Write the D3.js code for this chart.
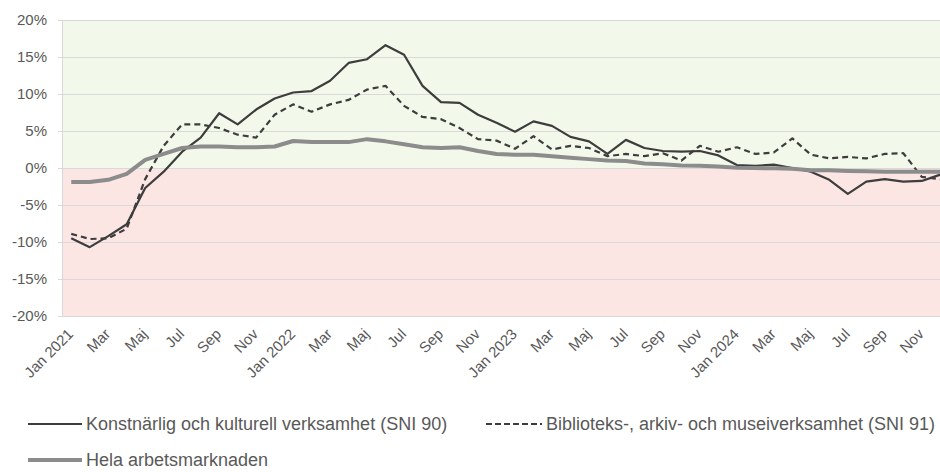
<!DOCTYPE html>
<html>
<head>
<meta charset="utf-8">
<script src="https://cdn.jsdelivr.net/npm/d3@7"></script>
<style>
	body { margin: 0; background: #fff; }
	svg { display: block; font-family: 'Liberation Sans', Arial, sans-serif; }
</style>
</head>
<body>
<script>
var monthNames = [ 'Jan', 'Feb', 'Mar', 'Apr', 'Maj', 'Jun', 'Jul', 'Aug', 'Sep', 'Okt', 'Nov', 'Dec' ];
var years = [ 2021, 2022, 2023, 2024 ];

// Konstnärlig och kulturell verksamhet (SNI 90), % förändring
var sni90 = [
	-9.5, -10.7, -9.2, -7.6, -2.7, -0.5, 2.2, 4.1, 7.4, 5.9, 7.9, 9.4,
	10.2, 10.4, 11.8, 14.2, 14.7, 16.6, 15.3, 11.1, 8.9, 8.8, 7.2, 6.1,
	4.9, 6.3, 5.7, 4.2, 3.6, 1.9, 3.8, 2.7, 2.3, 2.2, 2.3, 1.7,
	0.4, 0.3, 0.45, 0.0, -0.5, -1.6, -3.5, -1.85, -1.5, -1.85, -1.75, -0.9
];

// Biblioteks-, arkiv- och museiverksamhet (SNI 91)
var sni91 = [
	-8.9, -9.6, -9.5, -8.2, -1.5, 3.0, 5.9, 5.9, 5.4, 4.5, 4.1, 7.2,
	8.6, 7.6, 8.6, 9.2, 10.6, 11.1, 8.4, 6.9, 6.6, 5.4, 3.9, 3.7,
	2.6, 4.3, 2.5, 3.0, 2.7, 1.6, 1.9, 1.6, 2.0, 1.0, 3.0, 2.2,
	2.8, 1.9, 2.1, 4.0, 1.8, 1.3, 1.5, 1.3, 1.9, 2.0, -1.2, -1.5
];

// Hela arbetsmarknaden
var hela = [
	-1.9, -1.9, -1.6, -0.8, 1.1, 1.9, 2.7, 2.9, 2.9, 2.8, 2.8, 2.9,
	3.65, 3.5, 3.5, 3.5, 3.9, 3.6, 3.2, 2.8, 2.7, 2.8, 2.3, 1.9,
	1.8, 1.8, 1.6, 1.4, 1.2, 1.0, 0.95, 0.6, 0.5, 0.35, 0.3, 0.2,
	0.05, 0.0, -0.05, -0.1, -0.3, -0.3, -0.4, -0.45, -0.5, -0.5, -0.5, -0.5
];

var yTicks = [ -20, -15, -10, -5, 0, 5, 10, 15, 20 ];

var labels = [
	'Konstnärlig och kulturell verksamhet (SNI 90)',
	'Biblioteks-, arkiv- och museiverksamhet (SNI 91)',
	'Hela arbetsmarknaden'
];

// one key per month, e.g. "Mar 2022"
var months = [];
years.forEach( function ( y ) {
	monthNames.forEach( function ( m ) {
		months.push( m + ' ' + y );
	} );
} );

var tickLabel = function ( d ) {
	return d.slice( 0, 3 ) === 'Jan' ? d : d.split( ' ' )[0];
};

var width = 940;
var height = 472;

// the plot runs a bit past the right edge of the picture, as in the original
var plot = { left: 62, right: 949.5, top: 20, bottom: 316 };

var svg = d3.select( 'body' ).append( 'svg' )
	.attr( 'width', width )
	.attr( 'height', height );

var scales = {};

scales.x = d3.scaleBand()
	.domain( months )
	.range( [ plot.left, plot.right ] )
	.paddingInner( 0 )
	.paddingOuter( 0 );

scales.y = d3.scaleLinear()
	.domain( [ -20, 20 ] )
	.range( [ plot.bottom, plot.top ] );

var cx = function ( i ) { return scales.x( months[i] ) + scales.x.bandwidth() / 2; };

// background zones
svg.append( 'rect' )
	.attr( 'x', plot.left ).attr( 'y', scales.y( 20 ) )
	.attr( 'width', plot.right - plot.left )
	.attr( 'height', scales.y( 0 ) - scales.y( 20 ) )
	.attr( 'fill', '#f3f9ea' );

svg.append( 'rect' )
	.attr( 'x', plot.left ).attr( 'y', scales.y( 0 ) )
	.attr( 'width', plot.right - plot.left )
	.attr( 'height', scales.y( -20 ) - scales.y( 0 ) )
	.attr( 'fill', '#fce6e4' );

// y axis with gridlines
var yAxis = svg.append( 'g' )
	.attr( 'transform', 'translate(' + plot.left + ',0)' )
	.call( d3.axisLeft( scales.y )
		.tickValues( yTicks )
		.tickSize( -( plot.right - plot.left ) )
		.tickPadding( 15 )
		.tickFormat( function ( d ) { return d + '%'; } ) );

yAxis.select( '.domain' ).attr( 'stroke', '#d9d9d9' );
yAxis.selectAll( '.tick line' )
	.attr( 'stroke', '#d9d9d9' )
	.attr( 'x1', -4 );
yAxis.selectAll( '.tick text' )
	.attr( 'fill', '#595959' )
	.style( 'font-size', '15px' );

// x axis labels, every second month
var xAxis = svg.append( 'g' )
	.attr( 'transform', 'translate(0,' + plot.bottom + ')' )
	.call( d3.axisBottom( scales.x )
		.tickValues( months.filter( function ( d, i ) { return i % 2 === 0; } ) )
		.tickSize( 0 )
		.tickFormat( tickLabel ) );

xAxis.select( '.domain' ).remove();
xAxis.selectAll( '.tick text' )
	.attr( 'fill', '#595959' )
	.style( 'font-size', '15px' )
	.attr( 'text-anchor', 'end' )
	.attr( 'dy', 0 )
	.attr( 'y', 0 )
	.attr( 'transform', 'translate(3,19) rotate(-45)' );

var line = d3.line()
	.x( function ( d, i ) { return cx( i ); } )
	.y( function ( d ) { return scales.y( d ); } );

var series = [
	{ values: sni90, stroke: '#3d3d3d', width: 2.2, dash: null },
	{ values: sni91, stroke: '#3d3d3d', width: 2.2, dash: '6,4' },
	{ values: hela, stroke: '#8c8c8c', width: 4, dash: null }
];

series.forEach( function ( s ) {
	svg.append( 'path' )
		.datum( s.values )
		.attr( 'd', line )
		.attr( 'fill', 'none' )
		.attr( 'stroke', s.stroke )
		.attr( 'stroke-width', s.width )
		.attr( 'stroke-dasharray', s.dash )
		.attr( 'stroke-linejoin', 'round' );
} );

// legend
var legendItems = [
	{ x: 28, y: 424, len: 54, s: series[0], label: labels[0] },
	{ x: 486, y: 424, len: 56, s: series[1], label: labels[1] },
	{ x: 28, y: 460, len: 54, s: series[2], label: labels[2] }
];

legendItems.forEach( function ( item ) {
	var g = svg.append( 'g' ).attr( 'transform', 'translate(' + item.x + ',' + item.y + ')' );
	g.append( 'line' )
		.attr( 'x1', 0 ).attr( 'x2', item.len )
		.attr( 'stroke', item.s.stroke )
		.attr( 'stroke-width', item.s.width === 4 ? 4 : 2 )
		.attr( 'stroke-dasharray', item.s.dash ? '6,3' : null );
	g.append( 'text' )
		.attr( 'x', item.len + 4 )
		.attr( 'dy', '0.35em' )
		.attr( 'fill', '#595959' )
		.style( 'font-size', '18px' )
		.text( item.label );
} );
</script>
</body>
</html>
